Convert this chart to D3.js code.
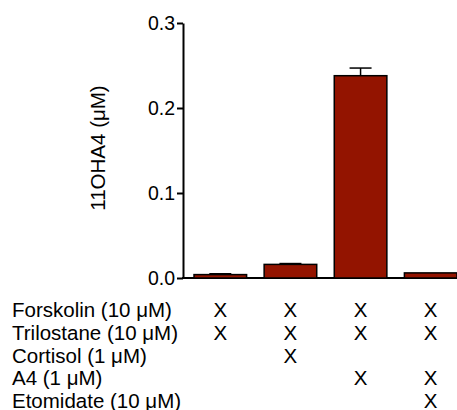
<!DOCTYPE html>
<html>
<head>
<script src="https://d3js.org/d3.v7.min.js"></script>
<style>
body { margin: 0; background: white; }
text { font-family: "Liberation Sans", Arial, sans-serif; }
</style>
</head>
<body>
<div id="chart"></div>
<script>
/* Data */
var groups = ["g1", "g2", "g3", "g4"];
var means = [0.004, 0.016, 0.238, 0.006];
var errs = [0.001, 0.001, 0.009, 0.000];
var yTicks = [0.0, 0.1, 0.2, 0.3];
var treatments = ["Forskolin (10 \u03BCM)", "Trilostane (10 \u03BCM)", "Cortisol (1 \u03BCM)", "A4 (1 \u03BCM)", "Etomidate (10 \u03BCM)"];
/* which group got which treatment (1 = X) */
var forskolin = [1, 1, 1, 1];
var trilostane = [1, 1, 1, 1];
var cortisol = [0, 1, 0, 0];
var a4 = [0, 0, 1, 1];
var etomidate = [0, 0, 0, 1];
var marks = [forskolin, trilostane, cortisol, a4, etomidate];

var svg = d3.select("#chart").append("svg")
    .attr("width", 457)
    .attr("height", 410);

var x = d3.scaleBand()
    .domain(groups)
    .range([187, 464])
    .paddingInner(0.25)
    .paddingOuter(0.1);

var y = d3.scaleLinear()
    .domain([0, 0.3])
    .range([278, 23]);

/* y axis */
var yAxis = d3.axisLeft(y)
    .tickValues(yTicks)
    .tickFormat(d3.format(".1f"))
    .tickSize(6)
    .tickSizeOuter(0)
    .tickPadding(2);

var gy = svg.append("g")
    .attr("transform", "translate(183,0)")
    .call(yAxis);
gy.select(".domain").attr("stroke", "black").attr("stroke-width", 2);
gy.selectAll(".tick line").attr("stroke", "black").attr("stroke-width", 2);
gy.selectAll(".tick text")
    .attr("font-size", "19.5px")
    .attr("fill", "black")
    .style("font-family", "Liberation Sans, Arial, sans-serif");

/* baseline */
svg.append("line")
    .attr("x1", 182)
    .attr("x2", 457)
    .attr("y1", y(0))
    .attr("y2", y(0))
    .attr("stroke", "black")
    .attr("stroke-width", 2);

/* error bars (upper only) */
groups.forEach(function(g, i) {
    if (errs[i] <= 0) return;
    var cx = x(g) + x.bandwidth() / 2;
    svg.append("line")
        .attr("x1", cx).attr("x2", cx)
        .attr("y1", y(means[i])).attr("y2", y(means[i] + errs[i]))
        .attr("stroke", "black").attr("stroke-width", 1.5);
    svg.append("line")
        .attr("x1", cx - 11).attr("x2", cx + 11)
        .attr("y1", y(means[i] + errs[i])).attr("y2", y(means[i] + errs[i]))
        .attr("stroke", "black").attr("stroke-width", 1.5);
});

/* bars */
svg.selectAll("rect.bar")
    .data(groups)
    .enter().append("rect")
    .attr("class", "bar")
    .attr("x", d => x(d))
    .attr("width", x.bandwidth())
    .attr("y", (d, i) => y(means[i]))
    .attr("height", (d, i) => y(0) - y(means[i]))
    .attr("fill", "#931400")
    .attr("stroke", "black")
    .attr("stroke-width", 1.5);

/* y label */
svg.append("text")
    .attr("transform", "translate(105,148) rotate(-90)")
    .attr("text-anchor", "middle")
    .attr("font-size", "20.5px")
    .attr("fill", "black")
    .text("11OHA4 (\u03BCM)");

/* treatment table */
var rowY = d3.scalePoint()
    .domain(treatments)
    .range([310, 401]);

treatments.forEach(function(t, r) {
    svg.append("text")
        .attr("x", 12)
        .attr("y", rowY(t))
        .attr("dy", "0.35em")
        .attr("font-size", "20.5px")
        .attr("fill", "black")
        .text(t);
    groups.forEach(function(g, i) {
        if (!marks[r][i]) return;
        svg.append("text")
            .attr("x", x(g) + x.bandwidth() / 2)
            .attr("y", rowY(t))
            .attr("dy", "0.35em")
            .attr("text-anchor", "middle")
            .attr("font-size", "20.5px")
            .attr("fill", "black")
            .text("X");
    });
});
</script>
</body>
</html>
